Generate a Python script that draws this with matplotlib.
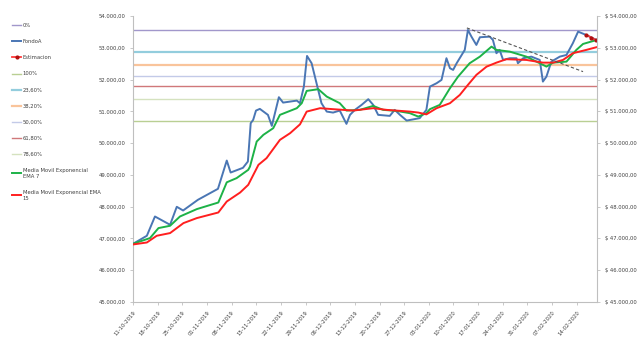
import matplotlib
matplotlib.use("Agg")
import matplotlib.pyplot as plt
from matplotlib.ticker import FuncFormatter

# dias desde 11-10-2019 y valores
dias_fondo = [0, 3.9, 6.2, 10.5, 12.4, 14.2, 18.4, 24.1, 26.6, 27.7, 31.2, 32.6, 33.4, 34.1, 34.9,
              36.0, 38.3, 39.4, 41.4, 42.6, 46.5, 47.4, 48.5, 49.4, 50.7, 52.1, 53.5, 55.0, 56.8,
              58.7, 60.6, 61.6, 63.0, 64.9, 66.8, 68.2, 69.6, 72.9, 74.3, 75.8, 77.7, 81.4, 83.3,
              84.3, 86.2, 87.6, 89.0, 90.0, 90.9, 91.9, 94.2, 95.1, 96.1, 97.5, 98.5, 101.3, 102.2,
              103.2, 104.1, 105.1, 107.0, 108.9, 109.3, 110.8, 113.1, 115.5, 116.4, 117.4, 118.8,
              121.2, 123.1, 124.9, 126.4, 128.7, 131.6]
fondo = [46830, 47081, 47688, 47427, 47993, 47877, 48213, 48559, 49449, 49072, 49220, 49418, 50625,
         50729, 51022, 51075, 50886, 50540, 51443, 51273, 51336, 51254, 51776, 52742, 52512, 51883,
         51254, 50990, 50959, 51022, 50603, 50887, 51044, 51201, 51380, 51201, 50887, 50855, 51044,
         50887, 50707, 50783, 51044, 51776, 51883, 51987, 52670, 52355, 52302, 52512, 52931, 53560,
         53349, 53088, 53330, 53349, 53245, 52827, 52931, 52616, 52670, 52670, 52512, 52670, 52720,
         52616, 51934, 52091, 52563, 52720, 52773, 53141, 53506, 53402, 53245]

dias_ema7 = [0, 4.8, 7.2, 10.5, 13.3, 18.1, 24.2, 26.6, 29.4, 32.7, 33.2, 35.1, 37.0, 39.8, 41.7,
             46.5, 47.9, 49.3, 52.6, 55.0, 58.7, 60.6, 64.4, 68.2, 71.0, 74.8, 78.6, 81.0, 83.3,
             84.3, 87.1, 90.0, 92.3, 95.6, 98.5, 101.8, 103.2, 107.0, 111.7, 115.5, 117.4, 119.3,
             123.1, 125.9, 127.8, 131.7]
ema7 = [46830, 47009, 47323, 47396, 47688, 47921, 48128, 48764, 48896, 49157, 49260, 50047, 50258,
        50468, 50887, 51097, 51254, 51641, 51695, 51462, 51254, 51022, 51044, 51170, 51044, 51012,
        50940, 50833, 50940, 51066, 51201, 51726, 52091, 52512, 52720, 53035, 52931, 52877, 52720,
        52512, 52406, 52531, 52563, 52931, 53119, 53245]

dias_ema15 = [0, 3.9, 6.7, 10.5, 14.3, 18.1, 24.2, 26.6, 30.4, 32.7, 35.6, 37.9, 41.7, 44.6, 47.4,
              49.3, 53.1, 56.8, 62.5, 68.2, 72.0, 78.6, 81.0, 83.3, 86.2, 90.0, 92.8, 95.1, 97.5,
              100.4, 103.2, 106.0, 111.7, 116.4, 119.3, 122.1, 124.9, 128.7, 131.6]
ema15 = [46808, 46870, 47081, 47166, 47480, 47638, 47814, 48160, 48443, 48685, 49314, 49525, 50100,
         50311, 50588, 50990, 51097, 51066, 51022, 51097, 51044, 50990, 50959, 50902, 51097, 51254,
         51515, 51830, 52145, 52405, 52531, 52638, 52616, 52531, 52531, 52616, 52827, 52931, 53016]

dias_estim = [128.7, 130.2, 131.6]
estimacion = [53402, 53320, 53230]

dias_tendencia = [94.8, 127.8]
tendencia = [53623, 52248]

# niveles de Fibonacci
niveles = ["0%", "100%", "23,60%", "38,20%", "50,00%", "61,80%", "78,60%"]
valores_niveles = [53560, 50708, 52877, 52459, 52123, 51799, 51380]
colores_niveles = ["#A197CB", "#B9CF93", "#93CDDD", "#F9C49B", "#C3CAE8", "#D0787A", "#D5E2BF"]
grosor_niveles = [1.0, 1.0, 1.6, 1.6, 1.0, 1.0, 1.0]

etiquetas_x = ["11-10-2019", "18-10-2019", "25-10-2019", "01-11-2019", "08-11-2019", "15-11-2019",
               "22-11-2019", "29-11-2019", "06-12-2019", "13-12-2019", "20-12-2019", "27-12-2019",
               "03-01-2020", "10-01-2020", "17-01-2020", "24-01-2020", "31-01-2020", "07-02-2020",
               "14-02-2020"]

fig = plt.figure(figsize=(6.4, 3.47), dpi=100)
ax = fig.add_axes([0.208, 0.130, 0.725, 0.824])

lineas = {}
for nombre, val, col, lw in zip(niveles, valores_niveles, colores_niveles, grosor_niveles):
    lineas[nombre] = ax.axhline(val, color=col, lw=lw, zorder=1)

lineas["FondoA"], = ax.plot(dias_fondo, fondo, color="#4A76B4", lw=1.4, zorder=3)
lineas["EMA7"], = ax.plot(dias_ema7, ema7, color="#1DB247", lw=1.4, zorder=3)
lineas["EMA15"], = ax.plot(dias_ema15, ema15, color="#FF1F1F", lw=1.4, zorder=3)
lineas["Estimacion"], = ax.plot(dias_estim, estimacion, color="#FF3B3B", lw=1.3, marker="o",
                                ms=2, mfc="#B01010", mec="#B01010", zorder=4)
ax.plot(dias_tendencia, tendencia, color="#555555", lw=0.8, ls=(0, (3, 2)), zorder=5)

ax.set_xlim(0, 131.8)
ax.set_ylim(45000, 54000)
ax.set_yticks(range(45000, 54001, 1000))
ax.yaxis.set_major_formatter(FuncFormatter(lambda v, p: f"{v:,.2f}".replace(",", "X").replace(".", ",").replace("X", ".")))
ax.set_xticks([7 * i for i in range(len(etiquetas_x))])
ax.set_xticklabels(etiquetas_x, rotation=50, ha="right", rotation_mode="anchor")

for s in ["top", "right"]:
    ax.spines[s].set_visible(False)
for s in ["left", "bottom"]:
    ax.spines[s].set_color("#BFBFBF")
ax.tick_params(labelsize=3.8, colors="#BFBFBF", labelcolor="#404040", length=2, width=0.6)

ax2 = ax.twinx()
ax2.set_ylim(45000, 54000)
ax2.set_yticks(range(45000, 54001, 1000))
ax2.yaxis.set_major_formatter(FuncFormatter(lambda v, p: "$ " + f"{v:,.2f}".replace(",", "X").replace(".", ",").replace("X", ".")))
for s in ["top", "left", "bottom"]:
    ax2.spines[s].set_visible(False)
ax2.spines["right"].set_color("#BFBFBF")
ax2.tick_params(labelsize=3.8, colors="#BFBFBF", labelcolor="#404040", length=2, width=0.6)

orden = ["0%", "FondoA", "Estimacion", "100%", "23,60%", "38,20%", "50,00%", "61,80%", "78,60%",
         "EMA7", "EMA15"]
textos = ["0%", "FondoA", "Estimacion", "100%", "23,60%", "38,20%", "50,00%", "61,80%", "78,60%",
          "Media Movil Exponencial\nEMA 7", "Media Movil Exponencial EMA\n15"]
fig.legend([lineas[k] for k in orden], textos, loc="upper left", bbox_to_anchor=(0.012, 0.947),
           frameon=False, fontsize=3.8, handlelength=1.7, handletextpad=0.25, labelspacing=2.1,
           labelcolor="#404040")

fig.savefig("out.png", dpi=100, facecolor="white")
